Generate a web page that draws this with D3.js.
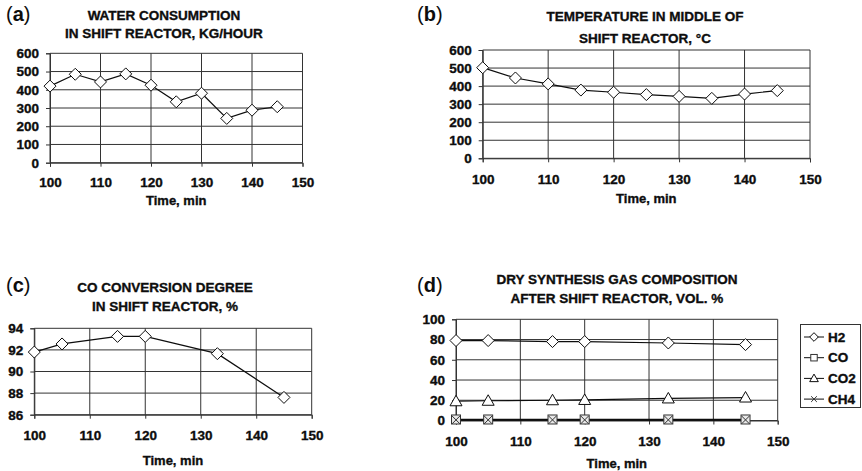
<!DOCTYPE html>
<html>
<head>
<meta charset="utf-8">
<script src="https://cdn.jsdelivr.net/npm/d3@7/dist/d3.min.js"></script>
<style>
  html, body { margin: 0; padding: 0; background: #fff; }
  svg { display: block; font-family: "Liberation Sans", Arial, sans-serif; }
</style>
</head>
<body>
<svg id="chart" width="862" height="471"></svg>
<script>
// ---------- DATA ----------
const timeTicks = [100, 110, 120, 130, 140, 150];

const waterTime = [100, 105, 110, 115, 120, 125, 130, 135, 140, 145];
const waterKgHour = [420, 485, 443, 487, 425, 334, 381, 243, 288, 307];
const waterTicks = [0, 100, 200, 300, 400, 500, 600];

const tempTime = [100, 105, 110, 115, 120, 125, 130, 135, 140, 145];
const tempC = [502, 445, 412, 378, 366, 353, 343, 332, 356, 375];
const tempTicks = [0, 100, 200, 300, 400, 500, 600];

const convTime = [100, 105, 115, 120, 133, 145];
const convPct = [91.8, 92.55, 93.25, 93.25, 91.65, 87.6];
const convTicks = [86, 88, 90, 92, 94];

const gasTime = [100, 105, 115, 120, 133, 145];
const gasH2 = [79, 79, 78, 78, 76.6, 75];
const gasCO = [1, 1, 1, 1, 1, 1];
const gasCO2 = [19, 19.5, 20, 20.3, 21.8, 22.7];
const gasCH4 = [0.6, 0.6, 0.6, 0.6, 0.6, 0.6];
const gasTicks = [0, 20, 40, 60, 80, 100];
const gasSeries = ["H2", "CO", "CO2", "CH4"];

// ---------- DRAWING ----------
const svg = d3.select("#chart");
const INK = "#0d0d0d";
const GRID = "#333";

function boldText(sel) {
  return sel.attr("fill", INK).attr("stroke", INK).attr("stroke-width", 0.35)
    .attr("font-weight", "bold").attr("font-family", "Liberation Sans, Arial, sans-serif");
}

function marker(g, type, x, y, s = 1) {
  if (type === "diamond") {
    const r = 6 * s;
    g.append("path")
      .attr("d", `M${x},${y - r}L${x + r},${y}L${x},${y + r}L${x - r},${y}Z`)
      .attr("fill", "#fff").attr("stroke", INK).attr("stroke-width", 1);
  } else if (type === "square") {
    const r = 4.5 * s;
    g.append("rect").attr("x", x - r).attr("y", y - r).attr("width", 2 * r).attr("height", 2 * r)
      .attr("fill", s < 1 ? "#fff" : "#e8e8e8").attr("stroke", "#333").attr("stroke-width", 1);
  } else if (type === "triangle") {
    const r = 6 * s;
    g.append("path")
      .attr("d", `M${x},${y - r}L${x + r},${y + 0.75 * r}L${x - r},${y + 0.75 * r}Z`)
      .attr("fill", "#fff").attr("stroke", INK).attr("stroke-width", 1);
  } else if (type === "cross") {
    const r = 4 * s;
    g.append("path")
      .attr("d", `M${x - r},${y - r}L${x + r},${y + r}M${x - r},${y + r}L${x + r},${y - r}`)
      .attr("stroke", "#333").attr("stroke-width", 1);
  }
}

function panel(cfg) {
  const g = svg.append("g");
  const x = d3.scaleLinear().domain([100, 150]).range([cfg.x0, cfg.x1]);
  const y = d3.scaleLinear().domain(cfg.yDomain).range([cfg.yb, cfg.yt]);

  // gridlines
  g.append("g").selectAll("line.h").data(cfg.yTicks).join("line")
    .attr("x1", cfg.x0).attr("x2", cfg.x1)
    .attr("y1", d => y(d)).attr("y2", d => y(d))
    .attr("stroke", GRID).attr("stroke-width", 1);
  g.append("g").selectAll("line.v").data(timeTicks).join("line")
    .attr("x1", d => x(d)).attr("x2", d => x(d))
    .attr("y1", cfg.yt).attr("y2", cfg.yb)
    .attr("stroke", GRID).attr("stroke-width", 1);

  // axes
  const yAxis = d3.axisLeft(y).tickValues(cfg.yTicks).tickSize(4).tickPadding(cfg.yPad || 7).tickFormat(d3.format("d"));
  const ya = g.append("g").attr("transform", `translate(${cfg.x0},0)`).call(yAxis);
  const xAxis = d3.axisBottom(x).tickValues(timeTicks).tickSize(4).tickPadding(cfg.xPad || 12).tickFormat(d3.format("d"));
  const xa = g.append("g").attr("transform", `translate(0,${cfg.yb})`).call(xAxis);
  [ya, xa].forEach(a => {
    a.select(".domain").attr("stroke", GRID);
    a.selectAll(".tick line").attr("stroke", GRID);
    boldText(a.selectAll("text")).attr("font-size", 13.5);
  });

  // series
  cfg.series.forEach(s => {
    const pts = s.values.map((v, i) => [x(cfg.times[i]), y(v)]);
    g.append("path").attr("d", d3.line()(pts))
      .attr("fill", "none").attr("stroke", INK).attr("stroke-width", s.width || 1.2);
  });
  cfg.series.forEach(s => {
    s.values.forEach((v, i) => marker(g, s.marker, x(cfg.times[i]), y(v)));
  });

  // panel letter
  const lt = g.append("text").attr("x", cfg.labX).attr("y", cfg.labY)
    .attr("font-size", 20).attr("fill", INK);
  lt.append("tspan").text("(");
  lt.append("tspan").text(cfg.letter).attr("font-weight", "bold");
  lt.append("tspan").text(")");

  // title
  cfg.title.forEach((t, i) => {
    boldText(g.append("text").attr("x", cfg.titleX).attr("y", cfg.titleY[i])
      .attr("text-anchor", "middle").attr("font-size", 13.5)).text(t);
  });

  // x title
  boldText(g.append("text").attr("x", (cfg.x0 + cfg.x1) / 2).attr("y", cfg.xTitleY)
    .attr("text-anchor", "middle").attr("font-size", 13)).text("Time, min");
  return {g, x, y};
}

panel({
  letter: "a", labX: 6, labY: 21,
  title: ["WATER CONSUMPTION", "IN SHIFT REACTOR, KG/HOUR"], titleX: 164, titleY: [20, 38],
  x0: 50, x1: 302.5, yt: 53.3, yb: 162.7, yDomain: [0, 600], yTicks: waterTicks, xPad: 11,
  times: waterTime, series: [{values: waterKgHour, marker: "diamond"}],
  xTitleY: 205
});

panel({
  letter: "b", labX: 417, labY: 21,
  title: ["TEMPERATURE IN MIDDLE OF", "SHIFT REACTOR, °C"], titleX: 645, titleY: [21, 43],
  x0: 482.7, x1: 810, yt: 50, yb: 158.3, yDomain: [0, 600], yTicks: tempTicks, xPad: 12,
  times: tempTime, series: [{values: tempC, marker: "diamond"}],
  xTitleY: 203
});

panel({
  letter: "c", labX: 6, labY: 292,
  title: ["CO CONVERSION DEGREE", "IN SHIFT REACTOR, %"], titleX: 165, titleY: [292, 311],
  x0: 34.3, x1: 311.7, yt: 328.3, yb: 414.7, yDomain: [86, 94], yTicks: convTicks, xPad: 12,
  times: convTime, series: [{values: convPct, marker: "diamond"}],
  xTitleY: 465
});

const gasValues = {H2: gasH2, CO: gasCO, CO2: gasCO2, CH4: gasCH4};
const gasMarkers = {H2: "diamond", CO: "square", CO2: "triangle", CH4: "cross"};
panel({
  letter: "d", labX: 417, labY: 292,
  title: ["DRY SYNTHESIS GAS COMPOSITION", "AFTER SHIFT REACTOR, VOL. %"], titleX: 617, titleY: [284, 303],
  x0: 456, x1: 777.7, yt: 319.3, yb: 420.5, yDomain: [0, 100], yTicks: gasTicks, xPad: 12,
  times: gasTime,
  series: gasSeries.map(k => ({values: gasValues[k], marker: gasMarkers[k], width: (k === "CO" || k === "CH4") ? 1.6 : 1.2})),
  xTitleY: 468
});

// legend
const leg = svg.append("g");
leg.append("rect").attr("x", 800.5).attr("y", 324.5).attr("width", 60).attr("height", 83)
  .attr("fill", "#fff").attr("stroke", GRID).attr("stroke-width", 1);
gasSeries.forEach((k, i) => {
  const cy = 337 + i * 20.7;
  leg.append("line").attr("x1", 804).attr("x2", 824).attr("y1", cy).attr("y2", cy)
    .attr("stroke", INK).attr("stroke-width", 1);
  marker(leg, gasMarkers[k], 814, cy, 0.72);
  boldText(leg.append("text").attr("x", 828).attr("y", cy + 4.7).attr("font-size", 13.5)).text(k);
});
</script>
</body>
</html>
